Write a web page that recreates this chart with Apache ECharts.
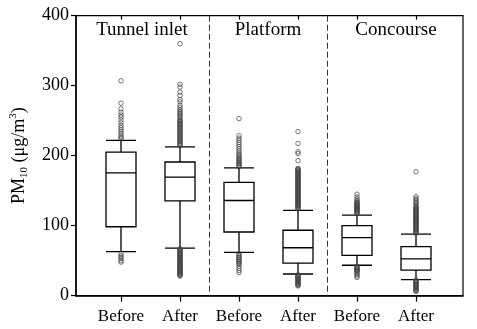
<!DOCTYPE html>
<html>
<head>
<meta charset="utf-8">
<script src="https://cdn.jsdelivr.net/npm/echarts@6/dist/echarts.min.js"></script>
<style>html,body{margin:0;padding:0;background:#fff}#c{width:477px;height:329px}</style>
</head>
<body>
<div id="c"></div>
<script>
// ---- data ----
var groups = ['Tunnel inlet', 'Platform', 'Concourse'];
var periods = ['Before', 'After'];
var categories = ['Tunnel inlet|Before', 'Tunnel inlet|After', 'Platform|Before', 'Platform|After', 'Concourse|Before', 'Concourse|After'];
// [lower whisker, Q1, median, Q3, upper whisker]
var boxTunnelBefore = [63, 98.5, 175.5, 205, 222];
var boxTunnelAfter = [68, 135.5, 169.5, 191, 212.5];
var boxPlatformBefore = [62, 91, 136, 162, 182.5];
var boxPlatformAfter = [31, 46.5, 68.5, 93.5, 122];
var boxConcourseBefore = [43.5, 57.5, 83, 100, 115];
var boxConcourseAfter = [23, 36.5, 52.5, 70, 88];
// outliers per category
var outTunnelBefore = [307, 275, 267, 262, 258, 255, 251, 247, 243, 240, 237, 234, 231, 228, 226, 224, 60, 57, 55, 53, 50, 48];
var outTunnelAfter = [360, 302, 298, 291, 286, 280, 277, 272, 269, 266, 264, 262, 260, 258, 256, 254, 252, 250, 249, 248, 246, 245, 244, 242, 241, 240, 238, 237, 236, 234, 233, 232, 230, 229, 228, 226, 225, 224, 222, 221, 220, 218, 217, 216, 214,
  67, 66, 65, 64, 63, 62, 61, 60, 59, 58, 57, 56, 55, 54, 53, 52, 51, 50, 49, 48, 47, 46, 45, 44, 43, 42, 41, 40, 39, 38, 37, 36, 35, 34, 33, 32, 31, 30, 29, 28];
var outPlatformBefore = [253, 228.5, 225, 222, 219, 216, 213, 210, 207, 204, 202, 200, 198, 196, 195, 193, 192, 190, 189, 187, 186, 184, 60, 58, 57, 55, 54, 52, 51, 49, 48, 46, 45, 42, 39, 36, 33];
var outPlatformAfter = [234.5, 217.5, 205.5, 203, 193, 182, 181, 180, 179, 178, 177, 176, 175, 174, 173, 172, 171, 170, 169, 168, 167, 166, 165, 164, 163, 162, 161, 160, 159, 158, 157, 156, 155, 154, 153, 152, 151, 150, 149, 148, 147, 146, 145, 144, 143, 142, 141, 140, 139, 138, 137, 136, 135, 134, 133, 132, 131, 130, 129, 128, 127, 126, 125, 124,
  30, 29, 28, 27, 26, 25, 24, 23, 22, 21, 20, 19, 18, 17, 16, 15, 14];
var outConcourseBefore = [145, 141, 138, 136, 134, 133, 132, 131, 130, 129, 128, 127, 126, 125, 124, 123, 122, 121, 120, 119, 118, 117, 42, 41, 40, 39, 38, 37, 36, 35, 34, 32, 30, 28, 26];
var outConcourseAfter = [177, 141.5, 139, 137, 135, 133, 131, 129, 127, 126, 125, 124, 123, 122, 121, 120, 119, 118, 117, 116, 115, 114, 113, 112, 111, 110, 109, 108, 107, 106, 105, 104, 103, 102, 101, 100, 99, 98, 97, 96, 95, 94, 93, 92, 91, 90, 89,
  22, 21, 20, 19, 18, 17, 16, 15, 14, 13, 12, 11, 10, 9, 8, 7, 6];
// group separators after these category indices
var separatorsAfter = [1, 3];
var yTicks = [0, 100, 200, 300, 400];

// ---- build ----
var boxData = [boxTunnelBefore, boxTunnelAfter, boxPlatformBefore, boxPlatformAfter, boxConcourseBefore, boxConcourseAfter];
var outLists = [outTunnelBefore, outTunnelAfter, outPlatformBefore, outPlatformAfter, outConcourseBefore, outConcourseAfter];
var outData = [];
outLists.forEach(function (list, i) { list.forEach(function (v) { outData.push([i, v]); }); });

var FONT = '"Liberation Serif", "Times New Roman", serif';
var chart = echarts.init(document.getElementById('c'), null, { renderer: 'canvas' });
chart.setOption({
  animation: false,
  backgroundColor: '#fff',
  grid: [
    { left: 72.5, right: 14, top: 15.7, bottom: 33.3, show: true, borderColor: '#000', borderWidth: 1.2, backgroundColor: 'transparent' },
    { left: 91.5, width: 354, top: 15.7, bottom: 33.3 }
  ],
  xAxis: [
    { gridIndex: 0, type: 'value', min: 0, max: 1, axisLine: { show: true, onZero: false, lineStyle: { color: '#000', width: 1.5 } }, axisTick: { show: false }, axisLabel: { show: false }, splitLine: { show: false } },
    { gridIndex: 1, type: 'category', data: categories, boundaryGap: true,
      axisLine: { show: false }, axisTick: { show: true, alignWithLabel: true, interval: 0, length: 6, lineStyle: { color: '#000', width: 1.2 } },
      axisLabel: { interval: 0, margin: 12, color: '#000', fontSize: 17, fontFamily: FONT, formatter: function (v) { return v.split('|')[1]; } },
      splitLine: { show: false } },
    { gridIndex: 1, type: 'category', data: categories, boundaryGap: true,
      axisLine: { show: false }, axisTick: { show: true, inside: true, interval: 0, alignWithLabel: true, length: 4, lineStyle: { color: '#000', width: 1.2 } },
      axisLabel: { show: false }, splitLine: { show: false } }
  ],
  yAxis: [
    { gridIndex: 0, type: 'value', min: 0, max: 400, interval: 100,
      axisLine: { show: true, lineStyle: { color: '#000', width: 1.5 } },
      axisTick: { show: true, length: 5, lineStyle: { color: '#000', width: 1.2 } },
      axisLabel: { color: '#000', fontSize: 18, fontFamily: FONT, margin: 7, formatter: function (v) { return yTicks.indexOf(v) >= 0 ? String(v) : ''; } },
      splitLine: { show: false },
      name: '{a|PM}{s|10}{a| (μg/m}{p|3}{a|)}', nameLocation: 'middle', nameGap: 46, nameRotate: 90,
      nameTextStyle: { color: '#000', fontFamily: FONT, fontSize: 18,
        rich: {
          a: { fontSize: 18, fontFamily: FONT, color: '#000', lineHeight: 22 },
          s: { fontSize: 11, fontFamily: FONT, color: '#000', verticalAlign: 'bottom', lineHeight: 11 },
          p: { fontSize: 11, fontFamily: FONT, color: '#000', verticalAlign: 'top', lineHeight: 11 }
        } } },
    { gridIndex: 1, type: 'value', min: 0, max: 400, interval: 100, show: false, splitLine: { show: false } }
  ],
  series: [
    { type: 'custom', xAxisIndex: 1, yAxisIndex: 1, data: separatorsAfter.map(function (i) { return [i]; }),
      renderItem: function (params, api) {
        var half = api.size([1, 0])[0] / 2;
        var top = api.coord([api.value(0), 400]);
        var bot = api.coord([api.value(0), 0]);
        return { type: 'line', shape: { x1: top[0] + half, y1: top[1], x2: bot[0] + half, y2: bot[1] },
          style: { stroke: '#333', lineWidth: 1, lineDash: [6, 3] } };
      }, silent: true, z: 1 },
    { type: 'boxplot', xAxisIndex: 1, yAxisIndex: 1, data: boxData, boxWidth: [30, 30],
      itemStyle: { color: '#fff', borderColor: '#000', borderWidth: 1.3 }, z: 2 },
    { type: 'scatter', xAxisIndex: 1, yAxisIndex: 1, data: outData, symbol: 'circle', symbolSize: 4.5,
      itemStyle: { color: 'rgba(0,0,0,0)', borderColor: '#444', borderWidth: 0.9 }, z: 3 }
  ],
  graphic: [
    { type: 'text', x: 142, y: 30, style: { text: groups[0], font: '19px ' + FONT, fill: '#000', align: 'center', verticalAlign: 'middle' } },
    { type: 'text', x: 268, y: 30, style: { text: groups[1], font: '19px ' + FONT, fill: '#000', align: 'center', verticalAlign: 'middle' } },
    { type: 'text', x: 396, y: 30, style: { text: groups[2], font: '19px ' + FONT, fill: '#000', align: 'center', verticalAlign: 'middle' } }
  ]
});
</script>
</body>
</html>
